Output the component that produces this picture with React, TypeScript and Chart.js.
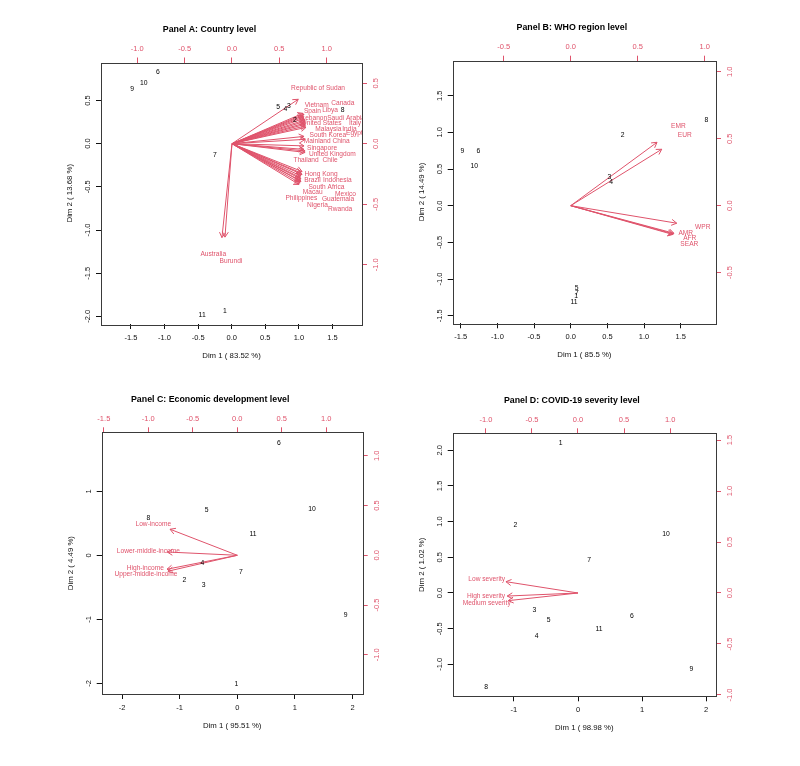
import React, { useEffect, useRef } from 'react';
import { Chart, registerables } from 'chart.js';
Chart.register(...registerables);

const RED = '#DF536B';
const FAMILY = '"Liberation Sans", Arial, Helvetica, sans-serif';

const scoreNames = ['1', '2', '3', '4', '5', '6', '7', '8', '9', '10', '11'];

// ---------- Panel A: Country level ----------
const aScoreX = [-0.10, 0.94, 0.85, 0.80, 0.69, -1.10, -0.25, 1.65, -1.48, -1.31, -0.44];
const aScoreY = [-1.94, 0.27, 0.43, 0.40, 0.42, 0.825, -0.135, 0.39, 0.63, 0.70, -1.98];
const aVarNames = ['Republic of Sudan', 'Vietnam', 'Canada', 'Spain', 'Libya', 'Lebanon', 'Saudi Arabia', 'United States', 'Italy', 'Malaysia', 'India', 'South Korea', 'Egypt', 'Mainland China', 'Singapore', 'United Kingdom', 'Thailand', 'Chile', 'Hong Kong', 'Brazil', 'Indonesia', 'South Africa', 'Macau', 'Mexico', 'Philippines', 'Guatemala', 'Nigeria', 'Rwanda', 'Australia', 'Burundi'];
const aTipX = [0.70, 0.75, 0.761, 0.75, 0.761, 0.761, 0.772, 0.772, 0.777, 0.772, 0.777, 0.761, 0.782, 0.772, 0.761, 0.772, 0.761, 0.772, 0.74, 0.729, 0.74, 0.729, 0.719, 0.729, 0.719, 0.729, 0.719, 0.708, -0.106, -0.074];
const aTipY = [0.367, 0.251, 0.243, 0.23, 0.222, 0.21, 0.197, 0.185, 0.172, 0.16, 0.147, 0.06, 0.135, 0.036, -0.018, -0.072, -0.047, -0.06, -0.23, -0.242, -0.254, -0.267, -0.279, -0.292, -0.304, -0.312, -0.325, -0.337, -0.776, -0.772];
const aLabX = [0.909, 0.895, 1.17, 0.849, 1.036, 0.87, 1.205, 0.948, 1.30, 1.018, 1.24, 1.012, 1.293, 1.001, 0.951, 1.06, 0.782, 1.036, 0.941, 0.849, 1.113, 0.997, 0.853, 1.198, 0.733, 1.12, 0.902, 1.142, -0.198, -0.011];
const aLabY = [0.461, 0.317, 0.331, 0.27, 0.276, 0.212, 0.207, 0.168, 0.168, 0.121, 0.121, 0.071, 0.083, 0.022, -0.033, -0.086, -0.138, -0.138, -0.249, -0.302, -0.298, -0.36, -0.403, -0.414, -0.453, -0.459, -0.509, -0.539, -0.911, -0.967];

// ---------- Panel B: WHO region level ----------
const bScoreX = [0.075, 0.709, 0.527, 0.55, 0.08, -1.26, 0.085, 1.85, -1.479, -1.315, 0.045];
const bScoreY = [-1.24, 0.969, 0.387, 0.327, -1.127, 0.75, -1.19, 1.165, 0.75, 0.54, -1.318];
const bVarNames = ['AFR', 'AMR', 'EMR', 'EUR', 'SEAR', 'WPR'];
const bTipX = [0.766, 0.77, 0.644, 0.679, 0.762, 0.791];
const bTipY = [-0.211, -0.206, 0.473, 0.421, -0.215, -0.131];
const bLabX = [0.888, 0.858, 0.803, 0.851, 0.885, 0.985];
const bLabY = [-0.243, -0.206, 0.59, 0.525, -0.286, -0.161];

// ---------- Panel C: Economic development level ----------
const cScoreX = [-0.017, -0.92, -0.583, -0.608, -0.531, 0.724, 0.064, -1.545, 1.882, 1.297, 0.273];
const cScoreY = [-2.016, -0.381, -0.469, -0.125, 0.703, 1.76, -0.261, 0.583, -0.933, 0.719, 0.333];
const cVarNames = ['Low-income', 'Lower-middle-income', 'High-income', 'Upper-middle-income'];
const cTipX = [-0.756, -0.787, -0.79, -0.78];
const cTipY = [0.262, 0.033, -0.14, -0.16];
const cLabX = [-0.944, -1.0, -1.034, -1.026];
const cLabY = [0.318, 0.043, -0.125, -0.185];

// ---------- Panel D: COVID-19 severity level ----------
const dScoreX = [-0.27, -0.978, -0.682, -0.644, -0.457, 0.842, 0.172, -1.435, 1.768, 1.373, 0.328];
const dScoreY = [2.097, 0.957, -0.234, -0.602, -0.374, -0.322, 0.466, -1.317, -1.064, 0.826, -0.504];
const dVarNames = ['Low severity', 'High severity', 'Medium severity'];
const dTipX = [-0.782, -0.768, -0.757];
const dTipY = [0.111, -0.03, -0.075];
const dLabX = [-0.991, -0.999, -0.991];
const dLabY = [0.137, -0.033, -0.101];

type Range = [number, number];
type PanelDef = {
  title: string; titleDx: number;
  left: number; top: number; w: number; h: number;
  box: { l: number; t: number; r: number; b: number };
  xlab: string; ylab: string;
  xs: Range; ys: Range; xl: Range; yl: Range;
  xsStep: number; xsDec: number; ysStep: number; ysDec: number;
  xlStep: number; ylStep: number;
  scoreX: number[]; scoreY: number[];
  varNames: string[]; tipX: number[]; tipY: number[]; labX: number[]; labY: number[];
};

const panels: PanelDef[] = [
  {
    title: 'Panel A: Country level', titleDx: -22,
    left: 0, top: 0, w: 400, h: 383,
    box: { l: 101, t: 62.5, r: 362, b: 324 },
    xlab: 'Dim 1 ( 83.52 %)', ylab: 'Dim 2 ( 13.68 %)',
    xs: [-1.945, 1.939], ys: [-2.088, 0.939], xl: [-1.383, 1.373], yl: [-1.49, 0.671],
    xsStep: 0.5, xsDec: 1, ysStep: 0.5, ysDec: 1, xlStep: 0.5, ylStep: 0.5,
    scoreX: aScoreX, scoreY: aScoreY, varNames: aVarNames, tipX: aTipX, tipY: aTipY, labX: aLabX, labY: aLabY,
  },
  {
    title: 'Panel B: WHO region level', titleDx: -12.5,
    left: 400, top: 0, w: 400, h: 383,
    box: { l: 52.7, t: 60.7, r: 316, b: 323.3 },
    xlab: 'Dim 1 ( 85.5 %)', ylab: 'Dim 2 ( 14.49 %)',
    xs: [-1.61, 1.982], ys: [-1.604, 1.978], xl: [-0.881, 1.084], yl: [-0.878, 1.082],
    xsStep: 0.5, xsDec: 1, ysStep: 0.5, ysDec: 1, xlStep: 0.5, ylStep: 0.5,
    scoreX: bScoreX, scoreY: bScoreY, varNames: bVarNames, tipX: bTipX, tipY: bTipY, labX: bLabX, labY: bLabY,
  },
  {
    title: 'Panel C: Economic development level', titleDx: -22,
    left: 0, top: 383, w: 400, h: 383,
    box: { l: 101.7, t: 49.3, r: 362.7, b: 311 },
    xlab: 'Dim 1 ( 95.51 %)', ylab: 'Dim 2 ( 4.49 %)',
    xs: [-2.354, 2.177], ys: [-2.167, 1.922], xl: [-1.524, 1.409], yl: [-1.395, 1.237],
    xsStep: 1, xsDec: 0, ysStep: 1, ysDec: 0, xlStep: 0.5, ylStep: 0.5,
    scoreX: cScoreX, scoreY: cScoreY, varNames: cVarNames, tipX: cTipX, tipY: cTipY, labX: cLabX, labY: cLabY,
  },
  {
    title: 'Panel D: COVID-19 severity level', titleDx: -12.5,
    left: 400, top: 383, w: 400, h: 383,
    box: { l: 52.7, t: 50.3, r: 316, b: 313.3 },
    xlab: 'Dim 1 ( 98.98 %)', ylab: 'Dim 2 ( 1.02 %)',
    xs: [-1.955, 2.153], ys: [-1.447, 2.237], xl: [-1.36, 1.498], yl: [-1.013, 1.566],
    xsStep: 1, xsDec: 0, ysStep: 0.5, ysDec: 1, xlStep: 0.5, ylStep: 0.5,
    scoreX: dScoreX, scoreY: dScoreY, varNames: dVarNames, tipX: dTipX, tipY: dTipY, labX: dLabX, labY: dLabY,
  },
];

const TICK_FONT = 7.5;
const AXTITLE_FONT = 7.8;
const SCORE_FONT = 6.8;
const VAR_FONT = 6.6;
const TL = 5;

let measureCtx: CanvasRenderingContext2D | null = null;
function measure(s: string, px: number) {
  if (!measureCtx) measureCtx = document.createElement('canvas').getContext('2d');
  measureCtx!.font = `${px}px ${FAMILY}`;
  return measureCtx!.measureText(s).width;
}
function tickStrings(r: Range, step: number, dec: number) {
  const out: string[] = [];
  const start = Math.ceil(r[0] / step - 1e-9);
  const end = Math.floor(r[1] / step + 1e-9);
  for (let k = start; k <= end; k++) out.push((k * step).toFixed(dec));
  return out;
}

function mkScale(pos: string, r: Range, step: number, dec: number, color: string, size: number, labelOff: number, title?: string, titleOff?: number) {
  const vertical = pos === 'left' || pos === 'right';
  let pad: number;
  if (vertical) {
    const widest = Math.max(...tickStrings(r, step, dec).map((s) => measure(s, TICK_FONT)));
    pad = labelOff - TL - widest / 2;
  } else {
    pad = labelOff - TL - (TICK_FONT * 1.2) / 2;
  }
  const s: any = {
    type: 'linear',
    position: pos,
    min: r[0],
    max: r[1],
    border: { display: false },
    grid: { drawOnChartArea: false, drawTicks: true, tickLength: TL, color, tickColor: color, lineWidth: 1 },
    ticks: {
      stepSize: step,
      includeBounds: false,
      autoSkip: false,
      padding: pad,
      color: color === RED ? RED : '#111',
      font: { size: TICK_FONT, family: FAMILY },
      callback: (v: any) => Number(v).toFixed(dec),
    },
    afterFit: (sc: any) => {
      if (vertical) sc.width = size; else sc.height = size;
    },
  };
  if (vertical) {
    s.ticks.minRotation = 90;
    s.ticks.maxRotation = 90;
    s.ticks.crossAlign = 'center';
  }
  const lh = AXTITLE_FONT * 1.2;
  if (title) {
    s.title = {
      display: true,
      text: title,
      color: '#111',
      font: { size: AXTITLE_FONT, family: FAMILY },
      padding: pos === 'bottom' ? { top: 0, bottom: size - lh / 2 - (titleOff as number) } : { top: size - (titleOff as number) - lh / 2, bottom: 0 },
    };
  }
  return s;
}

const biplotPlugin = {
  id: 'biplot',
  afterDatasetsDraw(chart: any, _args: any, opts: any) {
    const ctx: CanvasRenderingContext2D = chart.ctx;
    const ca = chart.chartArea;
    ctx.save();
    // arrow heads
    chart.data.datasets.forEach((ds: any, i: number) => {
      if (ds.role !== 'arrow') return;
      const meta = chart.getDatasetMeta(i);
      const p0 = meta.data[0];
      const p1 = meta.data[1];
      const ang = Math.atan2(p1.y - p0.y, p1.x - p0.x);
      const L = 6;
      const a = Math.PI / 6;
      ctx.strokeStyle = RED;
      ctx.lineWidth = 1;
      ctx.beginPath();
      ctx.moveTo(p1.x - L * Math.cos(ang - a), p1.y - L * Math.sin(ang - a));
      ctx.lineTo(p1.x, p1.y);
      ctx.lineTo(p1.x - L * Math.cos(ang + a), p1.y - L * Math.sin(ang + a));
      ctx.stroke();
    });
    // text labels (clipped to plot region like R)
    ctx.save();
    ctx.beginPath();
    ctx.rect(ca.left, ca.top, ca.right - ca.left, ca.bottom - ca.top);
    ctx.clip();
    ctx.textAlign = 'center';
    ctx.textBaseline = 'middle';
    chart.data.datasets.forEach((ds: any, i: number) => {
      if (ds.role !== 'scores' && ds.role !== 'vars') return;
      const meta = chart.getDatasetMeta(i);
      ctx.fillStyle = ds.role === 'scores' ? '#000' : RED;
      ctx.font = `${ds.role === 'scores' ? SCORE_FONT : VAR_FONT}px ${FAMILY}`;
      meta.data.forEach((pt: any, j: number) => {
        ctx.fillText(ds.texts[j], pt.x, pt.y);
      });
    });
    ctx.restore();
    // box
    ctx.strokeStyle = '#3a3a3a';
    ctx.lineWidth = 1;
    ctx.strokeRect(Math.round(ca.left) + 0.5, Math.round(ca.top) + 0.5, Math.round(ca.right - ca.left), Math.round(ca.bottom - ca.top));
    // main title
    ctx.fillStyle = '#000';
    ctx.font = `bold 8.8px ${FAMILY}`;
    ctx.textAlign = 'center';
    ctx.textBaseline = 'middle';
    ctx.fillText(opts.title, (ca.left + ca.right) / 2 + opts.titleDx, ca.top - 33);
    ctx.restore();
  },
};

function buildConfig(p: PanelDef): any {
  const datasets: any[] = [];
  datasets.push({
    role: 'scores',
    texts: scoreNames,
    data: p.scoreX.map((x, i) => ({ x, y: p.scoreY[i] })),
    xAxisID: 'x', yAxisID: 'y',
    pointRadius: 0, showLine: false,
  });
  p.varNames.forEach((_n, i) => {
    datasets.push({
      role: 'arrow',
      data: [{ x: 0, y: 0 }, { x: p.tipX[i], y: p.tipY[i] }],
      xAxisID: 'x2', yAxisID: 'y2',
      showLine: true, borderColor: RED, borderWidth: 1, pointRadius: 0, fill: false,
    });
  });
  datasets.push({
    role: 'vars',
    texts: p.varNames,
    data: p.labX.map((x, i) => ({ x, y: p.labY[i] })),
    xAxisID: 'x2', yAxisID: 'y2',
    pointRadius: 0, showLine: false,
  });
  const b = p.box;
  return {
    type: 'scatter',
    data: { datasets },
    options: {
      responsive: false,
      animation: false,
      events: [],
      layout: { padding: 0 },
      plugins: {
        legend: { display: false },
        tooltip: { enabled: false },
        title: { display: false },
        biplot: { title: p.title, titleDx: p.titleDx },
      },
      scales: {
        x: mkScale('bottom', p.xs, p.xsStep, p.xsDec, '#111', p.h - b.b, 13.7, p.xlab, 32),
        y: mkScale('left', p.ys, p.ysStep, p.ysDec, '#111', b.l, 12.7, p.ylab, 31),
        x2: mkScale('top', p.xl, p.xlStep, 1, RED, b.t, 13.3),
        y2: mkScale('right', p.yl, p.ylStep, 1, RED, p.w - b.r, 14),
      },
    },
    plugins: [biplotPlugin],
  };
}

function PanelChart({ p }: { p: PanelDef }) {
  const ref = useRef<HTMLCanvasElement>(null);
  useEffect(() => {
    const chart = new Chart(ref.current as HTMLCanvasElement, buildConfig(p));
    return () => chart.destroy();
  }, [p]);
  return (
    <canvas
      ref={ref}
      width={p.w}
      height={p.h}
      style={{ position: 'absolute', left: p.left, top: p.top, width: p.w, height: p.h }}
    />
  );
}

export default function App() {
  return (
    <div style={{ position: 'absolute', left: 0, top: 0, width: 800, height: 766, background: '#fff' }}>
      {panels.map((p) => (
        <PanelChart key={p.title} p={p} />
      ))}
    </div>
  );
}
